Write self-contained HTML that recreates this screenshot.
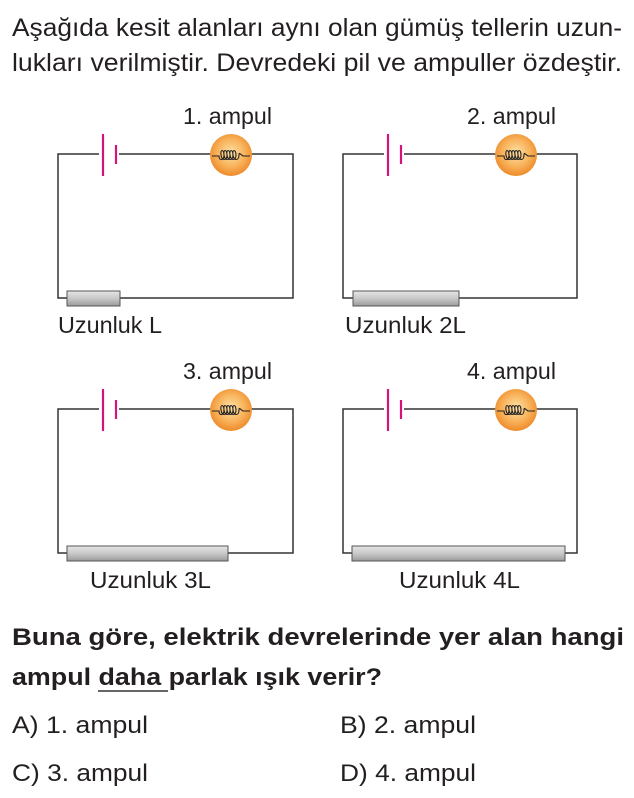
<!DOCTYPE html>
<html><head><meta charset="utf-8"><style>
html,body{margin:0;padding:0;background:#fff;}
svg{display:block;}
text{font-family:"Liberation Sans",sans-serif;fill:#231f20;}
</style></head><body>
<svg width="634" height="798" viewBox="0 0 634 798" xmlns="http://www.w3.org/2000/svg">
<defs>
<radialGradient id="bulb" cx="50%" cy="45%" r="55%">
<stop offset="0" stop-color="#fde2a8"/><stop offset="0.6" stop-color="#f8b25a"/><stop offset="1" stop-color="#ee8a2a"/>
</radialGradient>
<linearGradient id="res" x1="0" y1="0" x2="0" y2="1">
<stop offset="0" stop-color="#e6e6e6"/><stop offset="0.5" stop-color="#c8c8c8"/><stop offset="1" stop-color="#9a9a9a"/>
</linearGradient>
<g id="bulbg">
<circle cx="0" cy="0" r="21" fill="url(#bulb)"/>
<path d="M-19 1 H-12 C-12 6 -7 6 -7 0 C-7 -6 -11 -6 -10 0 C-9 6 -4 6 -4 0 C-4 -6 -8 -6 -7 0 C-6 6 -1 6 -1 0 C-1 -6 -5 -6 -4 0 C-3 6 2 6 2 0 C2 -6 -2 -6 -1 0 C0 6 5 6 5 0 C5 -6 1 -6 2 0 C3 6 8 6 8 0 C8 -3 9 -1 12 1 H19" fill="none" stroke="#222" stroke-width="1.1"/>
</g>
</defs>
<text x="12" y="36" font-size="25" textLength="610" lengthAdjust="spacingAndGlyphs">Aşağıda kesit alanları aynı olan gümüş tellerin uzun-</text>
<text x="12" y="71" font-size="25" textLength="610" lengthAdjust="spacingAndGlyphs">lukları verilmiştir. Devredeki pil ve ampuller özdeştir.</text>

<g stroke="#333" stroke-width="1.5" fill="none">
<rect x="58" y="154" width="235" height="144"/>
<rect x="343" y="154" width="234" height="144"/>
<rect x="58" y="409" width="235" height="144"/>
<rect x="343" y="409" width="234" height="144"/>
</g>
<g fill="#fff">
<rect x="99" y="150" width="20" height="9"/><rect x="384" y="150" width="20" height="9"/>
<rect x="99" y="405" width="20" height="9"/><rect x="384" y="405" width="20" height="9"/>
</g>
<g stroke="#d4147a" stroke-width="2.2">
<line x1="103" y1="134" x2="103" y2="176"/><line x1="116" y1="145" x2="116" y2="164"/>
<line x1="388" y1="134" x2="388" y2="176"/><line x1="401" y1="145" x2="401" y2="164"/>
<line x1="103" y1="389" x2="103" y2="431"/><line x1="116" y1="400" x2="116" y2="419"/>
<line x1="388" y1="389" x2="388" y2="431"/><line x1="401" y1="400" x2="401" y2="419"/>
</g>
<use href="#bulbg" x="231" y="155"/>
<use href="#bulbg" x="516" y="155"/>
<use href="#bulbg" x="231" y="410"/>
<use href="#bulbg" x="516" y="410"/>
<g fill="url(#res)" stroke="#555" stroke-width="1">
<rect x="67" y="291" width="53" height="15"/>
<rect x="353" y="291" width="106" height="15"/>
<rect x="67" y="546" width="161" height="15"/>
<rect x="352" y="546" width="213" height="15"/>
</g>
<g font-size="23" lengthAdjust="spacingAndGlyphs">
<text x="183" y="124" textLength="89" lengthAdjust="spacingAndGlyphs">1. ampul</text>
<text x="467" y="124" textLength="89" lengthAdjust="spacingAndGlyphs">2. ampul</text>
<text x="183" y="379" textLength="89" lengthAdjust="spacingAndGlyphs">3. ampul</text>
<text x="467" y="379" textLength="89" lengthAdjust="spacingAndGlyphs">4. ampul</text>
<text x="58" y="333" textLength="104" lengthAdjust="spacingAndGlyphs">Uzunluk L</text>
<text x="345" y="333" textLength="121" lengthAdjust="spacingAndGlyphs">Uzunluk 2L</text>
<text x="90" y="588" textLength="121" lengthAdjust="spacingAndGlyphs">Uzunluk 3L</text>
<text x="399" y="588" textLength="121" lengthAdjust="spacingAndGlyphs">Uzunluk 4L</text>
</g>
<text x="12" y="645" font-size="24" font-weight="bold" textLength="612" lengthAdjust="spacingAndGlyphs">Buna göre, elektrik devrelerinde yer alan hangi</text>
<text x="12" y="685" font-size="24" font-weight="bold" textLength="370" lengthAdjust="spacingAndGlyphs">ampul daha parlak ışık verir?</text>
<line x1="98" y1="691" x2="168" y2="691" stroke="#333" stroke-width="1.5"/>
<g font-size="24">
<text x="12" y="733" textLength="136" lengthAdjust="spacingAndGlyphs">A) 1. ampul</text>
<text x="340" y="733" textLength="136" lengthAdjust="spacingAndGlyphs">B) 2. ampul</text>
<text x="12" y="781" textLength="136" lengthAdjust="spacingAndGlyphs">C) 3. ampul</text>
<text x="340" y="781" textLength="136" lengthAdjust="spacingAndGlyphs">D) 4. ampul</text>
</g>
</svg>
</body></html>
